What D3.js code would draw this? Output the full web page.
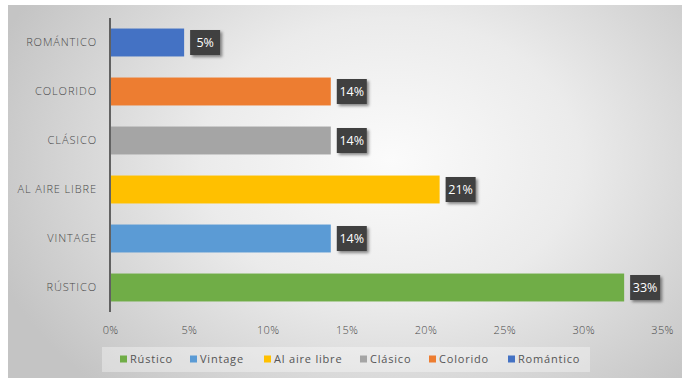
<!DOCTYPE html>
<html>
<head>
<meta charset="utf-8">
<script src="https://cdn.jsdelivr.net/npm/d3@7"></script>
<style>
  html, body { margin: 0; padding: 0; background: #ffffff; }
  svg { display: block; }
  text { font-family: "Open Sans", "DejaVu Sans", sans-serif; }
</style>
</head>
<body>
<svg id="chart" width="682" height="379"></svg>
<script>
// Categories, bottom to top as drawn on the axis
const categories = ["RÚSTICO", "VINTAGE", "AL AIRE LIBRE", "CLÁSICO", "COLORIDO", "ROMÁNTICO"];
const legendNames = ["Rústico", "Vintage", "Al aire libre", "Clásico", "Colorido", "Romántico"];
// Share of answers, in percent
const values = [32.6, 14.0, 20.9, 14.0, 14.0, 4.7];
const colors = ["#70ad47", "#5b9bd5", "#ffc000", "#a5a5a5", "#ed7d31", "#4472c4"];
const tickValues = [0, 5, 10, 15, 20, 25, 30, 35];

const svg = d3.select("#chart");
const W = 682, H = 379;

// Chart area background: soft radial gradient
const defs = svg.append("defs");
const grad = defs.append("radialGradient")
  .attr("id", "bg").attr("gradientUnits", "userSpaceOnUse")
  .attr("cx", 390).attr("cy", 160).attr("r", 420)
  .attr("gradientTransform", "translate(390,160) scale(1,0.75) translate(-390,-160)");
grad.append("stop").attr("offset", "0%").attr("stop-color", "#fbfbfb");
grad.append("stop").attr("offset", "45%").attr("stop-color", "#ebebeb");
grad.append("stop").attr("offset", "100%").attr("stop-color", "#c4c4c4");

const shadow = defs.append("filter").attr("id", "shadow")
  .attr("x", "-30%").attr("y", "-30%").attr("width", "170%").attr("height", "170%");
shadow.append("feDropShadow").attr("dx", 2).attr("dy", 2).attr("stdDeviation", 1.6)
  .attr("flood-color", "#000").attr("flood-opacity", 0.45);

svg.append("rect").attr("x", 8).attr("y", 5).attr("width", W - 8).attr("height", 373)
  .attr("fill", "url(#bg)");

const x = d3.scaleLinear().domain([0, 35]).range([110, 662]);
const y = d3.scaleBand().domain(categories.slice().reverse())
  .range([18, 312]).paddingInner(0.43).paddingOuter(0.215);

// Category axis
const yAxis = svg.append("g").attr("transform", "translate(110,0)")
  .call(d3.axisLeft(y).tickSize(0).tickPadding(13));
yAxis.select(".domain").attr("stroke", "#3a3a3a").attr("stroke-width", 1.5)
  .attr("d", "M0,18V312");
yAxis.selectAll("text").attr("fill", "#4a4a4a").attr("font-size", 11)
  .attr("font-weight", 300).attr("letter-spacing", "0.9px");

// Value axis (labels only)
const xAxis = svg.append("g").attr("transform", "translate(0,318)")
  .call(d3.axisBottom(x).tickValues(tickValues).tickSize(0).tickPadding(8)
    .tickFormat(d => d + "%"));
xAxis.select(".domain").remove();
xAxis.selectAll("text").attr("fill", "#4a4a4a").attr("font-size", 11)
  .attr("font-weight", 300).attr("letter-spacing", "0.3px");

// Bars
svg.append("g").selectAll("rect").data(categories).join("rect")
  .attr("x", x(0) + 1)
  .attr("y", d => y(d))
  .attr("width", (d, i) => x(values[i]) - x(0) - 1)
  .attr("height", y.bandwidth())
  .attr("fill", (d, i) => colors[i]);

// Data labels in dark callout boxes
const labels = svg.append("g").selectAll("g").data(categories).join("g")
  .attr("transform", (d, i) => `translate(${x(values[i]) + 6},${y(d) + y.bandwidth() / 2})`);
labels.each(function (d, i) {
  const g = d3.select(this);
  const txt = Math.round(values[i]) + "%";
  g.append("rect").attr("x", 0).attr("y", -12.5).attr("width", 30).attr("height", 25)
    .attr("fill", "#3f3f3f").attr("filter", "url(#shadow)");
  g.append("text").attr("x", 15).attr("y", 0).attr("dy", "0.36em")
    .attr("text-anchor", "middle").attr("fill", "#ffffff")
    .attr("font-size", 12.5).attr("font-weight", 500).text(txt);
});

// Legend
const legend = svg.append("g");
legend.append("rect").attr("x", 102).attr("y", 347).attr("width", 488).attr("height", 25)
  .attr("fill", "#ffffff").attr("fill-opacity", 0.35);
const legendX = [120, 190, 264, 360, 429, 508];
const items = legend.selectAll("g.item").data(legendNames).join("g")
  .attr("class", "item")
  .attr("transform", (d, i) => `translate(${legendX[i]},359)`);
items.append("rect").attr("x", 0).attr("y", -3.5).attr("width", 7).attr("height", 7)
  .attr("fill", (d, i) => colors[i]);
items.append("text").attr("x", 10).attr("y", 0).attr("dy", "0.36em")
  .attr("fill", "#555555").attr("font-size", 11).attr("letter-spacing", "0.8px")
  .text(d => d);
</script>
</body>
</html>
